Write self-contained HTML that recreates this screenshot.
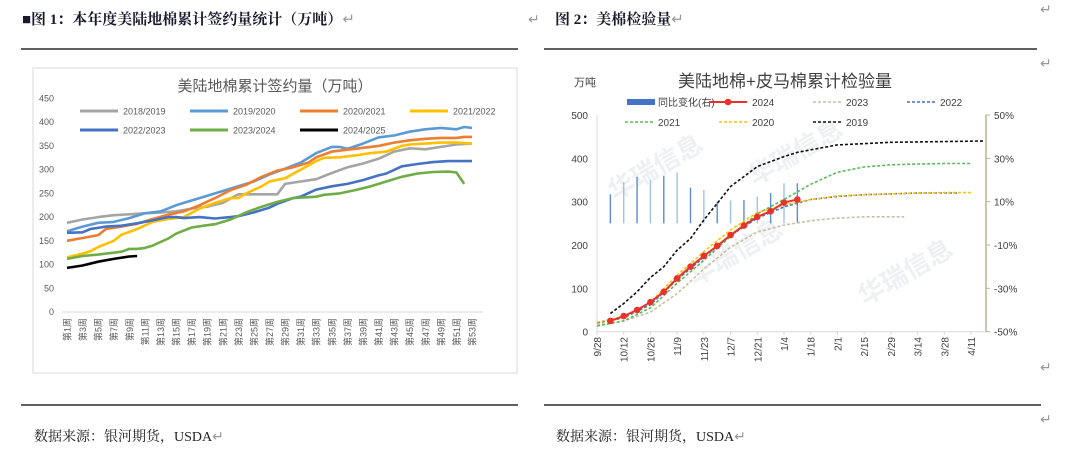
<!DOCTYPE html>
<html><head><meta charset="utf-8"><style>
html,body{margin:0;padding:0;background:#fff;}
svg{display:block;}
.t{font-family:"Liberation Serif","Noto Serif CJK SC",serif;}
.s{font-family:"Liberation Sans","Noto Sans CJK SC",sans-serif;}
</style></head><body>
<svg id="root" width="1077" height="450" viewBox="0 0 1077 450" xmlns="http://www.w3.org/2000/svg">
<text class="t" x="22" y="24" font-size="15" font-weight="bold" fill="#1a1a2e">■图 1：本年度美陆地棉累计签约量统计（万吨）<tspan fill="#999" font-weight="normal">↵</tspan></text>
<text class="t" x="528" y="24" font-size="14" fill="#999">↵</text>
<text class="t" x="555" y="24" font-size="15" font-weight="bold" fill="#1a1a2e">图 2：美棉检验量<tspan fill="#999" font-weight="normal">↵</tspan></text>
<text class="t" x="1040" y="14" font-size="14" fill="#999">↵</text>
<text class="t" x="1040" y="68" font-size="14" fill="#999">↵</text>
<text class="t" x="1040" y="372" font-size="14" fill="#999">↵</text>
<text class="t" x="1040" y="424" font-size="14" fill="#999">↵</text>
<line x1="21" y1="49" x2="518" y2="49" stroke="#000" stroke-width="1.2"/>
<line x1="544" y1="49" x2="1037" y2="49" stroke="#000" stroke-width="1.2"/>
<line x1="21" y1="405" x2="518" y2="405" stroke="#000" stroke-width="1.2"/>
<line x1="544" y1="405" x2="1041" y2="405" stroke="#000" stroke-width="1.2"/>
<text class="t" x="34" y="441" font-size="14" fill="#222">数据来源：银河期货，USDA<tspan fill="#999">↵</tspan></text>
<text class="t" x="556" y="441" font-size="14" fill="#222">数据来源：银河期货，USDA<tspan fill="#999">↵</tspan></text>

<rect x="33" y="68" width="484" height="305" fill="#fff" stroke="#d9d9d9"/>
<g id="c1"></g>
<g id="c2"></g>
</svg>
<script>
// ---------- Chart 1 data ----------
const c1Ticks = [0,50,100,150,200,250,300,350,400,450];
const c1Names = ["2018/2019","2019/2020","2020/2021","2021/2022","2022/2023","2023/2024","2024/2025"];
const c1Colors = ["#a5a5a5","#5b9bd5","#ed7d31","#ffc000","#4472c4","#70ad47","#000000"];
const w1819 = [1,3,5,7,9,11,13,15,17,19,21,23,25,27,28,29,31,33,35,37,39,41,43,45,47,49,51,53];
const v1819 = [188,195,200,204,206,208,210,212,218,222,230,248,248,248,248,270,275,280,293,305,313,323,338,345,343,348,353,355];
const w1920 = [1,3,5,7,9,11,13,15,17,19,21,23,25,27,29,31,33,35,36,37,39,41,43,45,47,49,51,52,53];
const v1920 = [170,180,188,190,198,208,212,225,235,245,255,265,275,290,302,315,335,348,348,344,355,368,372,380,385,388,385,390,388];
const w2021 = [1,3,5,6,8,10,12,14,16,18,20,22,24,26,28,30,32,33,35,37,39,41,43,45,47,49,51,52,53];
const v2021 = [150,156,162,175,180,186,196,205,212,225,240,257,268,285,298,305,315,326,338,342,346,350,357,362,365,367,367,369,369];
const w2122 = [1,3,4,5,7,8,10,12,14,16,18,20,22,23,24,26,27,29,31,33,34,36,38,40,42,44,45,47,49,51,53];
const v2122 = [115,123,128,137,150,163,175,190,196,200,218,230,240,240,250,265,275,282,300,318,325,326,330,335,338,350,353,355,357,357,355];
const w2223 = [1,3,4,6,8,10,12,14,15,16,18,20,22,23,25,27,28,30,31,33,35,37,39,41,42,44,46,48,50,53];
const v2223 = [167,168,175,180,182,187,193,200,200,198,200,197,200,202,210,220,228,240,243,258,265,270,278,288,292,307,312,316,318,318];
const w2324 = [1,3,5,7,8,9,10,11,12,14,15,17,19,20,22,24,26,28,30,32,33,34,36,38,40,42,44,46,48,50,51,52];
const v2324 = [112,118,121,125,127,133,133,135,140,155,165,178,183,185,195,210,222,232,240,242,243,247,250,257,265,275,285,292,295,296,294,270];
const w2425 = [1,3,5,7,9,10];
const v2425 = [93,98,106,112,117,118];
const c1Weeks = [w1819,w1920,w2021,w2122,w2223,w2324,w2425];
const c1Vals = [v1819,v1920,v2021,v2122,v2223,v2324,v2425];

// ---------- Chart 2 data ----------
const c2Labels = ["9/28","10/12","10/26","11/9","11/23","12/7","12/21","1/4","1/18","2/1","2/15","2/29","3/14","3/28","4/11"];
const c2LeftTicks = [0,100,200,300,400,500];
const c2RightTicks = ["-50%","-30%","-10%","10%","30%","50%"];
const barWeeks = [1,2,3,4,5,6,7,8,9,10,11,12,13,14,15];
const barVals = [13.4,19,21.5,20,22,23.5,16.5,15.4,10,10.5,10.8,12.3,14,18.5,18.5];
const s2024w = [1,2,3,4,5,6,7,8,9,10,11,12,13,14,15];
const s2024v = [25,36,50,68,92,123,150,175,198,223,245,265,278,298,305];
const s2023w = [0,2,4,6,8,10,12,14,16,18,20,23];
const s2023v = [15,25,45,88,145,195,230,246,256,262,265,265];
const s2022w = [0,2,4,6,8,10,12,14,16,18,20,22,24,27];
const s2022v = [20,32,62,120,172,222,262,288,305,312,316,318,320,320];
const s2021w = [0,2,4,6,8,10,12,14,16,18,20,22,24,26,28];
const s2021v = [13,25,55,112,165,220,272,305,340,368,380,385,387,388,388];
const s2020w = [0,2,4,6,8,10,12,14,16,18,20,22,24,26,28];
const s2020v = [22,35,68,130,185,235,275,292,305,313,316,318,320,321,321];
const s2019w = [1,2,3,4,5,6,7,8,9,10,12,14,15,18,22,29];
const s2019v = [42,65,92,125,150,188,215,258,296,335,381,404,414,431,437,440];

const NS="http://www.w3.org/2000/svg";
function mk(parent,tag,attrs,txt){const e=document.createElementNS(NS,tag);for(const k in attrs)e.setAttribute(k,attrs[k]);if(txt!==undefined)e.textContent=txt;parent.appendChild(e);return e;}

// ---------- Chart 1 ----------
(function(){
const g=document.getElementById('c1');
const x=w=>67+(w-1)*(472-67)/52;
const y=v=>312-v*(312-98.5)/450;
let t=mk(g,'text',{x:275,y:91,'font-size':15,'text-anchor':'middle',fill:'#595959',class:'s'},"美陆地棉累计签约量（万吨）");


const ax=mk(g,'line',{x1:62,x2:483,y1:y(0),y2:y(0),stroke:'#d9d9d9'});


c1Ticks.forEach(v=>{const e=mk(g,'text',{x:54,y:y(v)+3,'font-size':9,'text-anchor':'end',fill:'#595959',class:'s'},String(v));

});
for(let w=1;w<=53;w+=2){const e=mk(g,'text',{transform:`translate(${x(w)+3.5},${y(0)+6}) rotate(-90)`,'font-size':9,'text-anchor':'end',fill:'#595959',class:'s'},`第${w}周`);

}
c1Names.forEach((n,i)=>{const col=i%4,row=Math.floor(i/4);const lx=80+col*110,ly=111+row*19;
const lg=mk(g,'g',{});


mk(lg,'line',{x1:lx,x2:lx+38,y1:ly,y2:ly,stroke:c1Colors[i],'stroke-width':3});
mk(lg,'text',{x:lx+43,y:ly+3.5,'font-size':9,fill:'#595959',class:'s'},n);});
c1Vals.forEach((vals,i)=>{const pts=vals.map((v,j)=>x(c1Weeks[i][j]).toFixed(1)+','+y(v).toFixed(1)).join(' ');
const p=mk(g,'polyline',{points:pts,fill:'none',stroke:c1Colors[i],'stroke-width':2.6,'stroke-linejoin':'round'});

});
})();

// ---------- Chart 2 ----------
(function(){
const g=document.getElementById('c2');
const x=w=>597+w*(971-597)/28;
const y=v=>331.7-v*(331.7-115)/500;
const yr=p=>331.7-(p+50)*(331.7-115)/100;
let e;
[[660,175],[800,160],[740,260],[910,280]].forEach(([wx,wy])=>{e=mk(g,'text',{transform:`translate(${wx},${wy}) rotate(-30)`,'font-size':26,'font-weight':'bold',fill:'#eef0f3','text-anchor':'middle',class:'s'},"华瑞信息");

});
e=mk(g,'text',{x:585,y:86,'font-size':11,fill:'#404040','text-anchor':'middle',class:'s'},"万吨");


e=mk(g,'text',{x:785,y:87,'font-size':17,fill:'#404040','text-anchor':'middle',class:'s'},"美陆地棉+皮马棉累计检验量");


e=mk(g,'line',{x1:597,x2:597,y1:115,y2:331.7,stroke:'#d9d9d9'});


e=mk(g,'line',{x1:597,x2:986,y1:331.7,y2:331.7,stroke:'#d9d9d9'});


e=mk(g,'line',{x1:986,x2:986,y1:115,y2:331.7,stroke:'#bdb38f','stroke-width':1.5});


c2LeftTicks.forEach(v=>{e=mk(g,'text',{x:588,y:y(v)+4,'font-size':10,'text-anchor':'end',fill:'#404040',class:'s'},String(v));

});
c2RightTicks.forEach((s,i)=>{const p=-50+i*20;
mk(g,'line',{x1:986,x2:990,y1:yr(p),y2:yr(p),stroke:'#bdb38f'});
e=mk(g,'text',{x:994,y:yr(p)+4,'font-size':10,fill:'#404040',class:'s'},s);

});
c2Labels.forEach((s,i)=>{const xx=x(i*2);
mk(g,'line',{x1:xx,x2:xx,y1:331.7,y2:335,stroke:'#d9d9d9'});
e=mk(g,'text',{transform:`translate(${xx+4},${337}) rotate(-90)`,'font-size':10,'text-anchor':'end',fill:'#404040',class:'s'},s);

});
barVals.forEach((v,i)=>{const xx=x(barWeeks[i]);
e=mk(g,'rect',{x:xx-0.7,y:yr(v),width:1.4,height:yr(0)-yr(v),fill:i%2?'#9dc3e6':'#5b8fd0'});

});
const ds=[[s2023w,s2023v,'#c9c0a0','2023'],[s2022w,s2022v,'#4472c4','2022'],[s2021w,s2021v,'#5cb85c','2021'],[s2020w,s2020v,'#ffc000','2020'],[s2019w,s2019v,'#111','2019']];
ds.forEach(([ws,vs,c,n])=>{const pts=vs.map((v,j)=>x(ws[j]).toFixed(1)+','+y(v).toFixed(1)).join(' ');
e=mk(g,'polyline',{points:pts,fill:'none',stroke:c,'stroke-width':1.6,'stroke-dasharray':'3,2'});

});
const pts=s2024v.map((v,j)=>x(s2024w[j]).toFixed(1)+','+y(v).toFixed(1)).join(' ');
e=mk(g,'polyline',{points:pts,fill:'none',stroke:'#e8332a','stroke-width':2});


s2024v.forEach((v,j)=>{e=mk(g,'circle',{cx:x(s2024w[j]),cy:y(v),r:3.3,fill:'#e8332a'});

});
const L=[["同比变化(右)",'bar','#4472c4'],["2024",'mark','#e8332a'],["2023",'dash','#c9c0a0'],["2022",'dash','#4472c4'],["2021",'dash','#5cb85c'],["2020",'dash','#ffc000'],["2019",'dash','#111']];
L.forEach(([n,t,c],i)=>{const col=i%4,row=Math.floor(i/4);const lx=627+col*94,ly=102+row*20;
const lg=mk(g,'g',{});


if(t=='bar')mk(lg,'rect',{x:lx,y:ly-3,width:28,height:6,fill:c});
else if(t=='mark'){mk(lg,'line',{x1:lx-12,x2:lx+26,y1:ly,y2:ly,stroke:c,'stroke-width':2});mk(lg,'circle',{cx:lx+7,cy:ly,r:3.3,fill:c});}
else mk(lg,'line',{x1:lx-2,x2:lx+28,y1:ly,y2:ly,stroke:c,'stroke-width':1.6,'stroke-dasharray':'3,2'});
mk(lg,'text',{x:lx+31,y:ly+4,'font-size':10,fill:'#404040',class:'s'},n);});
})();
</script>
</body></html>
